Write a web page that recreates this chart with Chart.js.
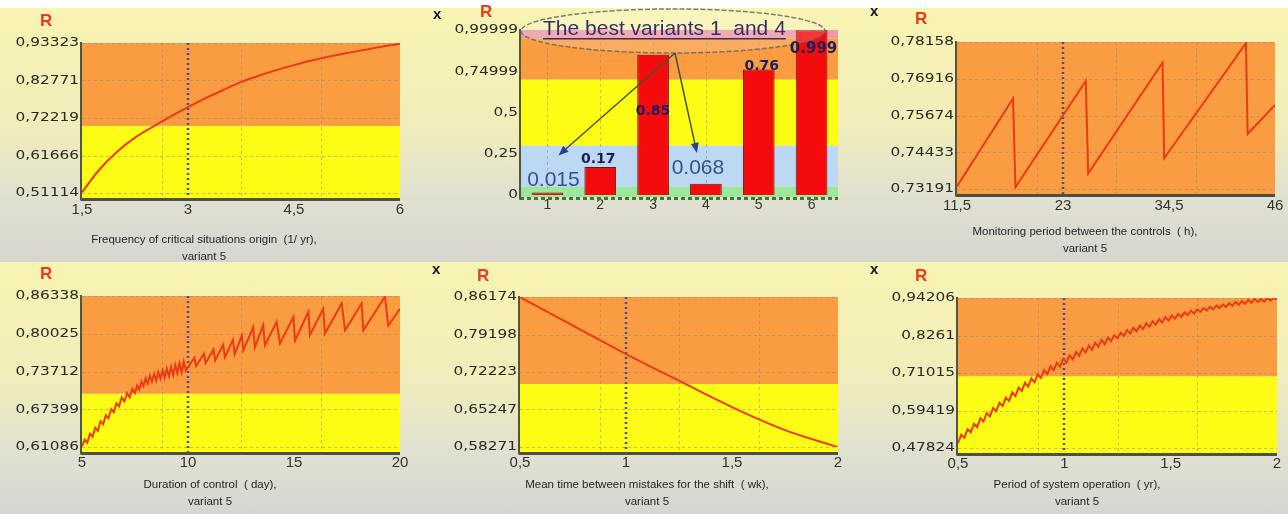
<!DOCTYPE html>
<html>
<head>
<meta charset="utf-8">
<script src="https://cdn.jsdelivr.net/npm/chart.js@4.4.1/dist/chart.umd.min.js"></script>
<style>
  html, body { margin: 0; padding: 0; }
  body { width: 1288px; height: 514px; position: relative; overflow: hidden; background: #fff;
         font-family: "Liberation Sans", Arial, sans-serif; }
  .panel { position: absolute;
           background: linear-gradient(to bottom, #f8f4b2 0%, #f1edbb 45%, #dfdfd2 78%, #d6d6d0 100%); }
  .panel canvas { position: absolute; left: 0; top: 0; }
  .lbl-r { position: absolute; color: #ec3a1c; font: bold 17px "Liberation Sans", Arial, sans-serif; line-height: 17px; }
  .lbl-x { position: absolute; color: #151515; font: bold 15px "Liberation Sans", Arial, sans-serif; line-height: 15px; }
  .ttl { position: absolute; transform: translateX(-50%); font-size: 11.5px; line-height: 17px; color: #262626;
         text-align: center; white-space: pre; }
</style>
</head>
<body>
<div class="panel" style="left:0;top:8px;width:430px;height:254px"><canvas id="c1" width="430" height="254"></canvas></div>
<div class="panel" style="left:430px;top:8px;width:440px;height:254px"><canvas id="c2" width="440" height="254"></canvas></div>
<div class="panel" style="left:870px;top:8px;width:418px;height:254px"><canvas id="c3" width="418" height="254"></canvas></div>
<div class="panel" style="left:0;top:262px;width:430px;height:252px"><canvas id="c4" width="430" height="252"></canvas></div>
<div class="panel" style="left:430px;top:262px;width:440px;height:252px"><canvas id="c5" width="440" height="252"></canvas></div>
<div class="panel" style="left:870px;top:262px;width:418px;height:252px"><canvas id="c6" width="418" height="252"></canvas></div>

<div class="lbl-r" style="left:40px;top:12px">R</div>
<div class="lbl-r" style="left:480px;top:3px">R</div>
<div class="lbl-r" style="left:915px;top:10px">R</div>
<div class="lbl-r" style="left:40px;top:265px">R</div>
<div class="lbl-r" style="left:477px;top:267px">R</div>
<div class="lbl-r" style="left:915px;top:267px">R</div>

<div class="lbl-x" style="left:433px;top:6px">x</div>
<div class="lbl-x" style="left:870px;top:3px">x</div>
<div class="lbl-x" style="left:432px;top:261px">x</div>
<div class="lbl-x" style="left:870px;top:261px">x</div>

<div class="ttl" style="left:204px;top:231px">Frequency of critical situations origin  (1/ yr),
variant 5</div>
<div class="ttl" style="left:1085px;top:223px">Monitoring period between the controls  ( h),
variant 5</div>
<div class="ttl" style="left:210px;top:476px">Duration of control  ( day),
variant 5</div>
<div class="ttl" style="left:647px;top:476px">Mean time between mistakes for the shift  ( wk),
variant 5</div>
<div class="ttl" style="left:1077px;top:476px">Period of system operation  ( yr),
variant 5</div>

<script>
// ---- data ----

// frequency of critical situations origin (1/yr)
const p1X = [1.5, 1.75, 2, 2.25, 2.5, 2.75, 3, 3.25, 3.5, 3.75, 4, 4.25, 4.5, 4.75, 5, 5.25, 5.5, 5.75, 6];
const p1R = [0.513, 0.578, 0.628, 0.667, 0.697, 0.726, 0.753, 0.778, 0.801, 0.823, 0.841, 0.857, 0.871, 0.884, 0.895, 0.905, 0.914, 0.923, 0.931];
const p1TicksX = [1.5, 3, 4.5, 6];
const p1LabelsX = ['1,5', '3', '4,5', '6'];
const p1TicksY = [0.51114, 0.61666, 0.72219, 0.82771, 0.93323];
const p1LabelsY = ['0,51114', '0,61666', '0,72219', '0,82771', '0,93323'];
const p1GridX = [2.625, 3.75, 4.875];
const p1Current = 3;

// comparison of variants
const variants = ['1', '2', '3', '4', '5', '6'];
const variantR = [0.015, 0.17, 0.85, 0.068, 0.76, 0.999];
const variantText = ['0.015', '0.17', '0.85', '0.068', '0.76', '0.999'];
const bestVariants = [0, 3];
const p2TicksY = [0, 0.25, 0.5, 0.74999, 0.99999];
const p2LabelsY = ['0', '0,25', '0,5', '0,74999', '0,99999'];
const calloutText = 'The best variants 1  and 4';

// monitoring period between the controls (h)
const p3X = [11.5, 17.58, 17.84, 25.47, 25.73, 33.8, 33.98, 42.85, 43.03, 46];
const p3R = [0.7328, 0.7625, 0.7325, 0.7684, 0.7371, 0.7746, 0.7423, 0.7812, 0.7505, 0.7603];
const p3TicksX = [11.5, 23, 34.5, 46];
const p3LabelsX = ['11,5', '23', '34,5', '46'];
const p3TicksY = [0.73191, 0.74433, 0.75674, 0.76916, 0.78158];
const p3LabelsY = ['0,73191', '0,74433', '0,75674', '0,76916', '0,78158'];
const p3GridX = [20.125, 28.75, 37.375];
const p3Current = 23;

// duration of control (day)
const p4X = [5.0, 5.125, 5.25, 5.375, 5.5, 5.625, 5.75, 5.875, 6.0, 6.125, 6.25, 6.375, 6.5, 6.625, 6.75, 6.875, 7.0, 7.125, 7.25, 7.375, 7.5,
  7.6, 7.7, 7.8, 7.9, 8.0, 8.1, 8.2, 8.3, 8.4, 8.5, 8.6, 8.7, 8.8, 8.9, 9.0, 9.1, 9.2, 9.3, 9.4, 9.5, 9.6, 9.7, 9.8, 9.9,
  10.3, 10.38, 10.75, 10.83, 11.2, 11.28, 11.66, 11.74, 12.12, 12.2, 12.54, 12.61, 13.08, 13.15, 13.55, 13.63, 14.18, 14.34,
  14.97, 15.05, 15.68, 15.75, 16.38, 16.46, 17.25, 17.41, 18.19, 18.27, 19.29, 19.45, 20.0];
const p4R = [0.612, 0.623, 0.618, 0.633, 0.628, 0.643, 0.638, 0.654, 0.649, 0.664, 0.659, 0.674, 0.669, 0.684, 0.679, 0.694, 0.687, 0.701, 0.694, 0.708, 0.701,
  0.714, 0.707, 0.720, 0.713, 0.726, 0.717, 0.730, 0.720, 0.733, 0.722, 0.736, 0.725, 0.739, 0.727, 0.742, 0.729, 0.745, 0.731, 0.748, 0.734, 0.751, 0.736, 0.754, 0.739,
  0.760, 0.746, 0.767, 0.751, 0.774, 0.756, 0.782, 0.761, 0.790, 0.766, 0.797, 0.773, 0.8115, 0.777, 0.815, 0.781, 0.820, 0.784,
  0.828, 0.789, 0.837, 0.798, 0.842, 0.8005, 0.851, 0.806, 0.851, 0.806, 0.862, 0.814, 0.842];
const p4TicksX = [5, 10, 15, 20];
const p4LabelsX = ['5', '10', '15', '20'];
const p4TicksY = [0.61086, 0.67399, 0.73712, 0.80025, 0.86338];
const p4LabelsY = ['0,61086', '0,67399', '0,73712', '0,80025', '0,86338'];
const p4GridX = [8.75, 12.5, 16.25];
const p4Current = 10;

// mean time between mistakes for the shift (wk)
const p5X = [0.5, 0.625, 0.75, 0.875, 1, 1.125, 1.25, 1.375, 1.5, 1.625, 1.75, 1.875, 2];
const p5R = [0.8617, 0.8350, 0.8085, 0.7820, 0.7555, 0.7305, 0.7060, 0.6810, 0.6570, 0.6345, 0.6140, 0.5975, 0.5827];
const p5TicksX = [0.5, 1, 1.5, 2];
const p5LabelsX = ['0,5', '1', '1,5', '2'];
const p5TicksY = [0.58271, 0.65247, 0.72223, 0.79198, 0.86174];
const p5LabelsY = ['0,58271', '0,65247', '0,72223', '0,79198', '0,86174'];
const p5GridX = [0.875, 1.25, 1.625];
const p5Current = 1;

// period of system operation (yr)
const p6X = [0.5, 0.515, 0.53, 0.545, 0.56, 0.575, 0.59, 0.605, 0.62, 0.635,
  0.65, 0.665, 0.68, 0.695, 0.71, 0.725, 0.74, 0.755, 0.77, 0.785,
  0.8, 0.815, 0.83, 0.845, 0.86, 0.875, 0.89, 0.905, 0.92, 0.935,
  0.95, 0.965, 0.98, 0.995, 1.01, 1.025, 1.04, 1.055, 1.07, 1.085,
  1.1, 1.115, 1.13, 1.145, 1.16, 1.175, 1.19, 1.205, 1.22, 1.235,
  1.25, 1.265, 1.28, 1.295, 1.31, 1.325, 1.34, 1.355, 1.37, 1.385,
  1.4, 1.415, 1.43, 1.445, 1.46, 1.475, 1.49, 1.505, 1.52, 1.535,
  1.55, 1.565, 1.58, 1.595, 1.61, 1.625, 1.64, 1.655, 1.67, 1.685,
  1.7, 1.715, 1.73, 1.745, 1.76, 1.775, 1.79, 1.805, 1.82, 1.835,
  1.85, 1.865, 1.88, 1.895, 1.91, 1.925, 1.94, 1.955, 1.97, 1.985, 2.0];
const p6R = [0.493, 0.519, 0.510, 0.536, 0.527, 0.553, 0.543, 0.570, 0.560, 0.586,
  0.576, 0.602, 0.592, 0.618, 0.608, 0.634, 0.624, 0.650, 0.639, 0.665,
  0.655, 0.680, 0.668, 0.693, 0.681, 0.706, 0.695, 0.719, 0.707, 0.731,
  0.719, 0.742, 0.730, 0.754, 0.742, 0.765, 0.752, 0.775, 0.763, 0.786,
  0.773, 0.795, 0.782, 0.804, 0.791, 0.813, 0.799, 0.819, 0.809, 0.827,
  0.817, 0.835, 0.825, 0.843, 0.832, 0.850, 0.839, 0.857, 0.846, 0.864,
  0.853, 0.870, 0.859, 0.877, 0.866, 0.883, 0.872, 0.888, 0.878, 0.893,
  0.883, 0.898, 0.889, 0.903, 0.894, 0.907, 0.899, 0.911, 0.903, 0.915,
  0.907, 0.919, 0.911, 0.922, 0.914, 0.926, 0.918, 0.930, 0.921, 0.933,
  0.924, 0.936, 0.927, 0.939, 0.930, 0.939, 0.931, 0.941, 0.934, 0.942, 0.938];
const p6TicksX = [0.5, 1, 1.5, 2];
const p6LabelsX = ['0,5', '1', '1,5', '2'];
const p6TicksY = [0.47824, 0.59419, 0.71015, 0.8261, 0.94206];
const p6LabelsY = ['0,47824', '0,59419', '0,71015', '0,8261', '0,94206'];
const p6GridX = [0.875, 1.25, 1.625];
const p6Current = 1;

// reliability zones
const levelOk = 0.7;
const zoneEdges = [0, 0.05, 0.3, 0.7, 0.95, 1];

// ---- drawing ----
const FONT = '"Liberation Sans", Arial, sans-serif';
const ORANGE = '#f99c42', YELLOW = '#fcfc14', BLUE = '#bcd8f2', GREEN = '#9ce89a', PINK = '#ec9aa8';
const LINE = '#ee3a14';
Chart.defaults.font.family = FONT;

const panelDecor = {
  id: 'panelDecor',
  beforeDatasetsDraw(chart, args, o) {
    const { ctx, chartArea: a, scales: { x, y } } = chart;
    ctx.save();
    o.bands.forEach(b => {
      const lo = Math.max(b.from, y.min), hi = Math.min(b.to, y.max);
      if (hi <= lo) return;
      const top = y.getPixelForValue(hi);
      const bot = y.getPixelForValue(lo) + (lo <= y.min ? o.under : 0);
      ctx.fillStyle = b.color;
      ctx.fillRect(a.left, top, a.right - a.left, bot - top);
    });
    ctx.lineWidth = 1;
    ctx.strokeStyle = 'rgba(150,140,110,0.55)';
    ctx.setLineDash([3, 3]);
    ctx.beginPath();
    (o.hGrid || []).forEach(v => {
      const py = Math.round(y.getPixelForValue(v)) + 0.5;
      ctx.moveTo(a.left, py); ctx.lineTo(a.right, py);
    });
    (o.vGrid || []).forEach(v => {
      const px = Math.round(x.getPixelForValue(v)) + 0.5;
      ctx.moveTo(px, a.top); ctx.lineTo(px, a.bottom + o.under);
    });
    ctx.stroke();
    if (o.marker != null) {
      const px = Math.round(x.getPixelForValue(o.marker));
      ctx.strokeStyle = '#4c4c9c';
      ctx.lineWidth = 2.5;
      ctx.setLineDash([2, 3]);
      ctx.beginPath(); ctx.moveTo(px, a.top); ctx.lineTo(px, a.bottom + o.under + 3); ctx.stroke();
    }
    ctx.restore();
  },
  afterDatasetsDraw(chart, args, o) {
    const { ctx, chartArea: a, scales: { y } } = chart;
    ctx.save();
    const base = a.bottom + o.under + 1.5;
    ctx.setLineDash(o.baseDash || []);
    ctx.strokeStyle = o.baseColor;
    ctx.lineWidth = 3;
    ctx.beginPath(); ctx.moveTo(a.left - 1, base); ctx.lineTo(a.right, base); ctx.stroke();
    ctx.setLineDash([]);
    ctx.strokeStyle = '#55553a';
    ctx.lineWidth = 2;
    ctx.beginPath(); ctx.moveTo(a.left - 1, a.top - 1); ctx.lineTo(a.left - 1, base + 1); ctx.stroke();
    // y labels, drawn a bit wide like the source program does
    ctx.font = '13px "DejaVu Sans"';
    ctx.fillStyle = '#2a2a20';
    ctx.textAlign = 'right';
    ctx.textBaseline = 'middle';
    y.ticks.forEach((t, i) => {
      ctx.save();
      ctx.translate(a.left - 3, y.getPixelForValue(t.value));
      ctx.scale(o.stretch, 1);
      ctx.fillText(o.yLabels[i], 0, 0);
      ctx.restore();
    });
    ctx.restore();
  }
};

function fixedScales(W, H, area, xCfg, yCfg) {
  return {
    x: Object.assign({
      afterFit: s => { s.height = H - area.bottom; s.paddingLeft = 0; s.paddingRight = 0; },
      grid: { display: false, drawTicks: false },
      border: { display: false },
      ticks: { autoSkip: false, maxRotation: 0, padding: xCfg.pad, font: { size: xCfg.size }, color: '#34342e',
               callback: (v, i) => xCfg.labels[i] }
    }, xCfg.extra),
    y: {
      min: yCfg.ticks[0], max: yCfg.ticks[yCfg.ticks.length - 1],
      afterBuildTicks: s => { s.ticks = yCfg.ticks.map(v => ({ value: v })); },
      afterFit: s => { s.width = area.left; s.paddingTop = 0; s.paddingBottom = 0; },
      grid: { display: false }, border: { display: false }, ticks: { display: false }
    }
  };
}

function lineChart(id, cfg) {
  const cv = document.getElementById(id);
  const W = cv.width, H = cv.height, a = cfg.area;
  const xMin = cfg.xTicks[0], xMax = cfg.xTicks[cfg.xTicks.length - 1];
  return new Chart(cv, {
    type: 'line',
    data: {
      datasets: [{
        data: cfg.xs.map((v, i) => ({ x: v, y: cfg.ys[i] })),
        borderColor: LINE, borderWidth: 2, pointRadius: 0,
        cubicInterpolationMode: cfg.smooth ? 'monotone' : 'default', tension: 0
      }]
    },
    options: {
      responsive: false, animation: false, events: [],
      layout: { padding: { left: 0, top: a.top, right: W - a.right, bottom: 0 } },
      plugins: {
        legend: { display: false }, tooltip: { enabled: false },
        panelDecor: {
          bands: [{ from: -1, to: levelOk, color: YELLOW }, { from: levelOk, to: 2, color: ORANGE }],
          hGrid: cfg.yTicks, vGrid: cfg.gridX, marker: cfg.current, under: 5,
          baseColor: '#4f4f44', yLabels: cfg.yLabels, stretch: 1.18
        }
      },
      scales: fixedScales(W, H, a,
        { pad: cfg.xPad, size: 15, labels: cfg.xLabels,
          extra: { type: 'linear', min: xMin, max: xMax,
                   afterBuildTicks: s => { s.ticks = cfg.xTicks.map(v => ({ value: v })); } } },
        { ticks: cfg.yTicks })
    },
    plugins: [panelDecor]
  });
}

const variantNotes = {
  id: 'variantNotes',
  afterDatasetsDraw(chart, args, o) {
    const { ctx, chartArea: a, scales: { y } } = chart;
    const bars = chart.getDatasetMeta(0).data;
    ctx.save();
    // callout
    const cx = a.left + 152, cy = a.top + 1;
    ctx.beginPath();
    ctx.ellipse(cx, cy, 152, 22, 0, 0, Math.PI * 2);
    ctx.fillStyle = 'rgba(255,250,235,0.18)';
    ctx.fill();
    ctx.strokeStyle = 'rgba(105,105,105,0.85)';
    ctx.lineWidth = 1.5;
    ctx.setLineDash([5, 2]);
    ctx.stroke();
    ctx.setLineDash([]);
    ctx.font = '21px ' + FONT;
    ctx.fillStyle = '#3a2c6c';
    ctx.textAlign = 'left';
    ctx.textBaseline = 'alphabetic';
    ctx.fillText(o.callout, a.left + 22, a.top + 5);
    const tw = ctx.measureText(o.callout).width;
    ctx.fillRect(a.left + 22, a.top + 8, tw, 1.5);
    // arrows to the best variants
    const fx = a.left + 154, fy = a.top + 23;
    o.arrows.forEach(ar => {
      const tx = bars[ar.i].x + ar.dx, ty = y.getPixelForValue(ar.v);
      const ang = Math.atan2(ty - fy, tx - fx);
      ctx.strokeStyle = '#4a5230';
      ctx.lineWidth = 1.5;
      ctx.beginPath(); ctx.moveTo(fx, fy); ctx.lineTo(tx - 6 * Math.cos(ang), ty - 6 * Math.sin(ang)); ctx.stroke();
      ctx.fillStyle = '#2b3f8f';
      ctx.beginPath();
      ctx.moveTo(tx, ty);
      ctx.lineTo(tx - 10 * Math.cos(ang) + 4 * Math.sin(ang), ty - 10 * Math.sin(ang) - 4 * Math.cos(ang));
      ctx.lineTo(tx - 10 * Math.cos(ang) - 4 * Math.sin(ang), ty - 10 * Math.sin(ang) + 4 * Math.cos(ang));
      ctx.closePath(); ctx.fill();
    });
    // value labels
    ctx.textAlign = 'center';
    ctx.textBaseline = 'middle';
    bars.forEach((bar, i) => {
      const st = o.labelStyle[i];
      ctx.font = st.font;
      ctx.fillStyle = st.color;
      ctx.fillText(o.texts[i], bar.x + st.dx, bar.y + st.dy);
    });
    ctx.restore();
  }
};

const BIG = '21px ' + FONT, SMALL = 'bold 14px "DejaVu Sans"';
(function barChart() {
  const cv = document.getElementById('c2');
  const W = cv.width, H = cv.height, a = { left: 91, right: 408, top: 22, bottom: 187 };
  const zoneColors = [GREEN, BLUE, YELLOW, ORANGE, PINK];
  new Chart(cv, {
    type: 'bar',
    data: {
      labels: variants,
      datasets: [{ data: variantR, backgroundColor: '#f40c0c', borderColor: '#6e1414', borderWidth: 1,
                   barPercentage: 0.6, categoryPercentage: 1 }]
    },
    options: {
      responsive: false, animation: false, events: [],
      layout: { padding: { left: 0, top: a.top, right: W - a.right, bottom: 0 } },
      plugins: {
        legend: { display: false }, tooltip: { enabled: false },
        panelDecor: {
          bands: zoneColors.map((c, i) => ({ from: zoneEdges[i], to: zoneEdges[i + 1], color: c })),
          hGrid: [], vGrid: [0, 1, 2, 3, 4, 5], marker: null, under: 2,
          baseColor: '#3e7a34', baseDash: [4, 3], yLabels: p2LabelsY, stretch: 1.18
        },
        variantNotes: {
          callout: calloutText, texts: variantText,
          arrows: [{ i: bestVariants[0], dx: 11, v: 0.24 }, { i: bestVariants[1], dx: -9, v: 0.255 }],
          labelStyle: [
            { font: BIG, color: '#33528f', dx: 6, dy: -12 },
            { font: SMALL, color: '#1d1d5e', dx: -2, dy: -8 },
            { font: SMALL, color: '#1d1d5e', dx: 0, dy: 57 },
            { font: BIG, color: '#33528f', dx: -8, dy: -16 },
            { font: SMALL, color: '#1d1d5e', dx: 3, dy: -3 },
            { font: 'bold 15px "DejaVu Sans"', color: '#1d1d5e', dx: 2, dy: 19 }
          ]
        }
      },
      scales: fixedScales(W, H, a, { pad: 2, size: 14, labels: variants, extra: { type: 'category', offset: true } },
                          { ticks: p2TicksY })
    },
    plugins: [panelDecor, variantNotes]
  });
})();

lineChart('c1', { xs: p1X, ys: p1R, xTicks: p1TicksX, xLabels: p1LabelsX, yTicks: p1TicksY, yLabels: p1LabelsY,
  gridX: p1GridX, current: p1Current, smooth: true, xPad: 8,
  area: { left: 82, right: 400, top: 35, bottom: 185 } });
lineChart('c3', { xs: p3X, ys: p3R, xTicks: p3TicksX, xLabels: p3LabelsX, yTicks: p3TicksY, yLabels: p3LabelsY,
  gridX: p3GridX, current: p3Current, smooth: false, xPad: 8,
  area: { left: 87, right: 405, top: 34, bottom: 181 } });
lineChart('c4', { xs: p4X, ys: p4R, xTicks: p4TicksX, xLabels: p4LabelsX, yTicks: p4TicksY, yLabels: p4LabelsY,
  gridX: p4GridX, current: p4Current, smooth: false, xPad: 7,
  area: { left: 82, right: 400, top: 34, bottom: 185 } });
lineChart('c5', { xs: p5X, ys: p5R, xTicks: p5TicksX, xLabels: p5LabelsX, yTicks: p5TicksY, yLabels: p5LabelsY,
  gridX: p5GridX, current: p5Current, smooth: true, xPad: 7,
  area: { left: 90, right: 408, top: 35, bottom: 185 } });
lineChart('c6', { xs: p6X, ys: p6R, xTicks: p6TicksX, xLabels: p6LabelsX, yTicks: p6TicksY, yLabels: p6LabelsY,
  gridX: p6GridX, current: p6Current, smooth: false, xPad: 7,
  area: { left: 88, right: 407, top: 36, bottom: 186 } });
</script>
</body>
</html>
